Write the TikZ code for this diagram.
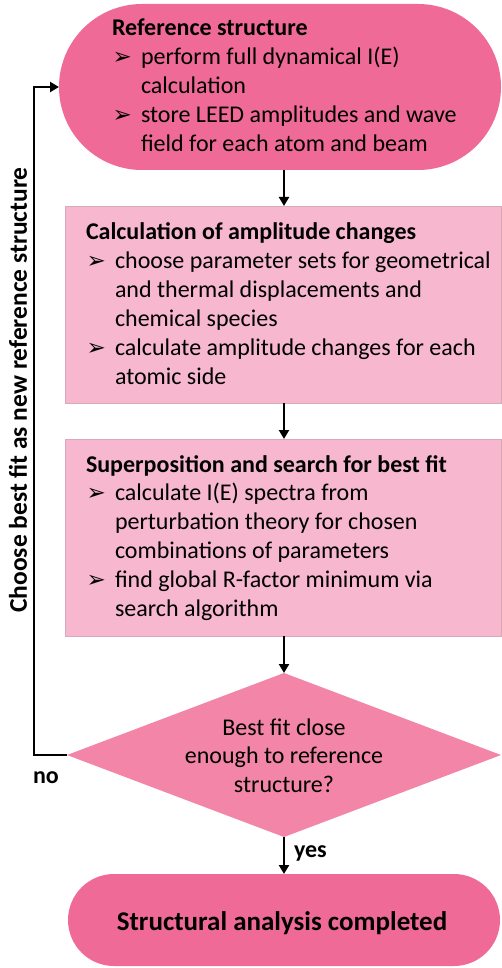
\documentclass[tikz,border=0pt]{standalone}
\usepackage{fontspec}
\setmainfont{Carlito}
\newfontfamily\dejavu{DejaVu Sans}
\usetikzlibrary{arrows.meta,shapes.geometric}
\definecolor{darkpink}{RGB}{240,106,151}
\definecolor{lightpink}{RGB}{247,183,207}
\definecolor{midpink}{RGB}{242,133,168}
\definecolor{boxedge}{RGB}{215,170,185}
\newcommand{\blt}{\makebox[29pt][l]{\kern0.5pt{\dejavu\fontsize{23}{24}\selectfont ➢}}}
\newcommand{\ind}{\hspace*{29pt}}
\newcommand{\txtblock}[1]{\vtop{\baselineskip=28.9pt #1}}
\begin{document}
\begin{tikzpicture}[x=1pt,y=-1pt,
  every node/.style={inner sep=0pt,outer sep=0pt},
  bodytext/.style={font=\fontsize{24}{29}\selectfont,anchor=base west},
  stadium/.style={rectangle,fill=darkpink},
  stepbox/.style={rectangle,fill=lightpink,draw=boxedge,line width=0.6pt},
  decision/.style={diamond,fill=midpink},
  flow/.style={line width=2.8pt,-{Triangle[width=10pt,length=9pt]}},
  loopline/.style={line width=2.8pt,-{Triangle[width=10pt,length=9pt]}},
  lbl/.style={font=\fontsize{24}{29}\selectfont\bfseries}
]
\useasboundingbox (0,0) rectangle (501,968);
% shapes
\node[stadium,minimum width=442pt,minimum height=166pt,rounded corners=83pt] (ref) at (280,87) {};
\node[stepbox,minimum width=436pt,minimum height=197pt,anchor=north west] (amp) at (65,206) {};
\node[stepbox,minimum width=436pt,minimum height=197pt,anchor=north west] (sup) at (65,439) {};
\node[decision,minimum width=434pt,minimum height=164pt] (dec) at (284,755) {};
\node[stadium,minimum width=432pt,minimum height=92pt,rounded corners=46pt] (done) at (284,920) {};
% texts
\node[bodytext] (t1) at (112,36) {\txtblock{%
  \hbox{\bfseries Reference structure}
  \hbox{\blt perform full dynamical I(E)}
  \hbox{\ind calculation}
  \hbox{\blt store LEED amplitudes and wave}
  \hbox{\ind field for each atom and beam}}};
\node[bodytext] (t2) at (86,240) {\txtblock{%
  \hbox{\bfseries Calculation of amplitude changes}
  \hbox{\blt choose parameter sets for geometrical}
  \hbox{\ind and thermal displacements and}
  \hbox{\ind chemical species}
  \hbox{\blt calculate amplitude changes for each}
  \hbox{\ind atomic side}}};
\node[bodytext] (t3) at (86,472) {\txtblock{%
  \hbox{\bfseries Superposition and search for best fit}
  \hbox{\blt calculate I(E) spectra from}
  \hbox{\ind perturbation theory for chosen}
  \hbox{\ind combinations of parameters}
  \hbox{\blt find global R-factor minimum via}
  \hbox{\ind search algorithm}}};
\node[font=\fontsize{24}{29}\selectfont,anchor=base] (t4) at (284,735) {\vtop{\baselineskip=28.5pt
  \hbox to 0pt{\hss Best fit close\hss}
  \hbox to 0pt{\hss enough to reference\hss}
  \hbox to 0pt{\hss structure?\hss}}};
\node[font=\fontsize{27}{30}\selectfont\bfseries,anchor=base] (t5) at (282,930) {Structural analysis completed};
\node[font=\fontsize{25.5}{29}\selectfont\bfseries,anchor=base,rotate=90] (t6) at (27,390) {Choose best fit as new reference structure};
\node[lbl,anchor=base west] (no) at (33,783) {no};
\node[lbl,anchor=base west] (yes) at (294,857) {yes};
% connectors
\coordinate (c1) at (34,755);
\coordinate (c2) at (34,87);
\draw[flow] (ref.south -| dec.north) -- (amp.north -| dec.north);
\draw[flow] (amp.south -| dec.north) -- (sup.north -| dec.north);
\draw[flow] (sup.south -| dec.north) -- (dec.north);
\draw[flow] (dec.south) -- (done.north);
\draw[loopline] (dec.west) -- (c1) -- (c2) -- (ref.west);
\end{tikzpicture}
\end{document}
